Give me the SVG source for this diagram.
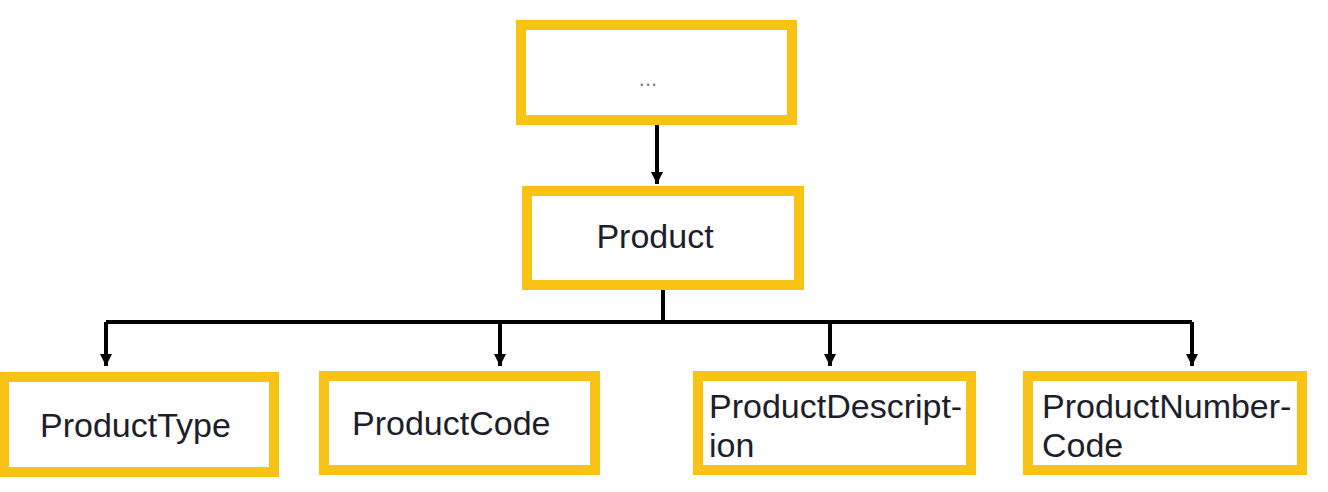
<svg xmlns="http://www.w3.org/2000/svg" width="1328" height="492" viewBox="0 0 1328 492">
<style>
.box{fill:#fff;stroke:#F8C315;stroke-width:10}
.lbl{font-family:"Liberation Sans",Arial,sans-serif;font-size:34px;fill:#1d1d2b}
.dots{font-family:"Liberation Sans",Arial,sans-serif;font-size:22px;fill:#808080}
.con{fill:none;stroke:#000;stroke-width:4}
</style>
<defs>
<marker id="ad" markerUnits="userSpaceOnUse" markerWidth="14" markerHeight="14" viewBox="0 0 14 14" refX="7" refY="13">
<path d="M1,1 L13,1 L7,13 Z" fill="#000"/>
</marker>
</defs>
<rect width="1328" height="492" fill="#fff"/>
<g id="connectors">
<path class="con" d="M657,125 V184" marker-end="url(#ad)"/>
<path class="con" d="M663,289 V322"/>
<path class="con" d="M106,322 H1192"/>
<path class="con" d="M106,322 V366" marker-end="url(#ad)"/>
<path class="con" d="M500,322 V366" marker-end="url(#ad)"/>
<path class="con" d="M830,322 V366" marker-end="url(#ad)"/>
<path class="con" d="M1192,322 V366" marker-end="url(#ad)"/>
</g>
<g id="node-top">
<rect class="box" x="521" y="25" width="271" height="95"/>
<text class="dots" x="648" y="86" text-anchor="middle">...</text>
</g>
<g id="node-product">
<rect class="box" x="527" y="191" width="272" height="94"/>
<text class="lbl" x="655" y="248" text-anchor="middle">Product</text>
</g>
<g id="node-producttype">
<rect class="box" x="4" y="377" width="270" height="95"/>
<text class="lbl" x="40" y="437">ProductType</text>
</g>
<g id="node-productcode">
<rect class="box" x="324" y="376" width="271" height="94"/>
<text class="lbl" x="352" y="435">ProductCode</text>
</g>
<g id="node-productdescription">
<rect class="box" x="698" y="376" width="273" height="94"/>
<text class="lbl" x="709" y="418">ProductDescript-</text>
<text class="lbl" x="709" y="457">ion</text>
</g>
<g id="node-productnumbercode">
<rect class="box" x="1028" y="376" width="274" height="94"/>
<text class="lbl" x="1042" y="418">ProductNumber-</text>
<text class="lbl" x="1042" y="457">Code</text>
</g>
</svg>
